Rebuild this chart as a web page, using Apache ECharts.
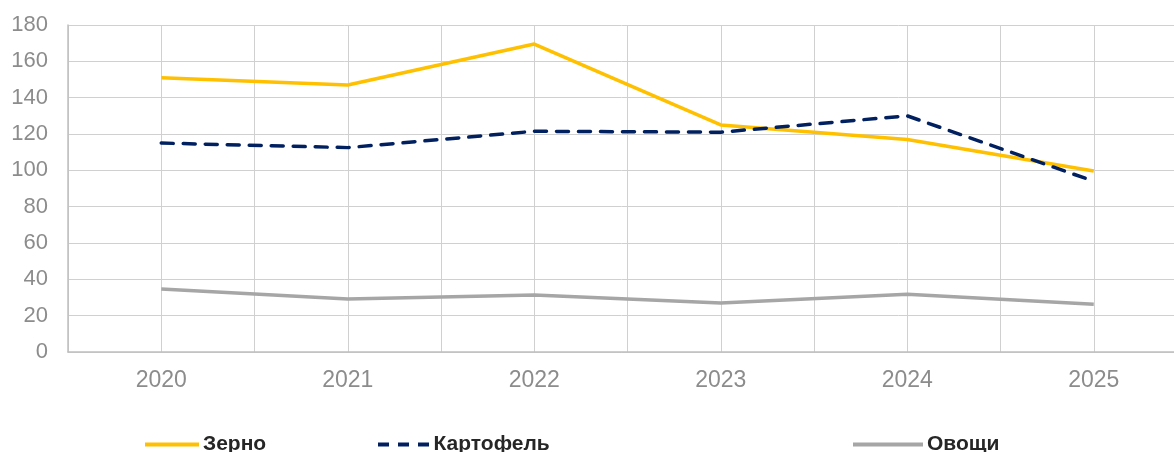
<!DOCTYPE html>
<html>
<head>
<meta charset="utf-8">
<script src="https://cdn.jsdelivr.net/npm/echarts@6/dist/echarts.min.js"></script>
<style>
html,body{margin:0;padding:0;background:#fff;}
#chart{width:1174px;height:452px;}
</style>
</head>
<body>
<div id="chart"></div>
<script>
const categories = ['2020','2021','2022','2023','2024','2025'];
const grain = [151, 147, 169.5, 125, 117, 99.6];
const potato = [115, 112.5, 121.5, 121, 130, 94];
const vegetables = [34.7, 29.2, 31.4, 27, 31.8, 26.3];
const seriesNames = ['Зерно', 'Картофель', 'Овощи'];
const yTicks = {min: 0, max: 180, interval: 20};

const chart = echarts.init(document.getElementById('chart'), null, {renderer: 'canvas'});
const font = '"Liberation Sans", Arial, sans-serif';
const legendBase = {
  top: 429, itemWidth: 54, itemHeight: 4, itemGap: 0,
  textStyle: {fontFamily: font, fontSize: 21, fontWeight: 'bold', color: '#262626', padding: [0,0,0,-1]},
  icon: 'rect'
};
chart.setOption({
  animation: false,
  backgroundColor: '#fff',
  grid: {left: 68, top: 25, width: 1119, height: 327, containLabel: false, outerBoundsMode: 'none'},
  legend: [
    Object.assign({}, legendBase, {left: 140, data: [{name: seriesNames[0]}]}),
    Object.assign({}, legendBase, {left: 373, itemWidth: 52,
      icon: 'path://M0,0h11v4h-11z M20,0h11v4h-11z M40,0h11v4h-11z',
      data: [{name: seriesNames[1]}]}),
    Object.assign({}, legendBase, {left: 848, itemWidth: 70, data: [{name: seriesNames[2]}]})
  ],
  xAxis: [
    {
      type: 'category', data: categories, boundaryGap: true,
      axisLine: {show: true, lineStyle: {color: '#bfbfbf', width: 1.5}},
      axisTick: {show: false},
      splitLine: {show: false},
      axisLabel: {color: '#8c8c8c', fontSize: 23, fontFamily: font, margin: 17}
    },
    {
      type: 'value', min: 0, max: categories.length, interval: 0.5, position: 'bottom',
      axisLine: {show: false}, axisTick: {show: false}, axisLabel: {show: false},
      splitLine: {show: true, lineStyle: {color: '#d0d0d0', width: 1}}
    }
  ],
  yAxis: {
    type: 'value', min: yTicks.min, max: yTicks.max, interval: yTicks.interval,
    axisLine: {show: true, lineStyle: {color: '#bfbfbf', width: 1.5}},
    axisTick: {show: false},
    splitLine: {show: true, lineStyle: {color: '#d0d0d0', width: 1}},
    axisLabel: {color: '#8c8c8c', fontSize: 22, fontFamily: font, margin: 20}
  },
  series: [
    {name: seriesNames[0], type: 'line', data: grain, symbol: 'none', color: '#FFC000',
     lineStyle: {color: '#FFC000', width: 3.5}, z: 3},
    {name: seriesNames[1], type: 'line', data: potato, symbol: 'none', color: '#002060',
     lineStyle: {color: '#002060', width: 3.5, type: [12, 10], cap: 'round'}, z: 4},
    {name: seriesNames[2], type: 'line', data: vegetables, symbol: 'none', color: '#A6A6A6',
     lineStyle: {color: '#A6A6A6', width: 3.5}, z: 2}
  ]
});
</script>
</body>
</html>
